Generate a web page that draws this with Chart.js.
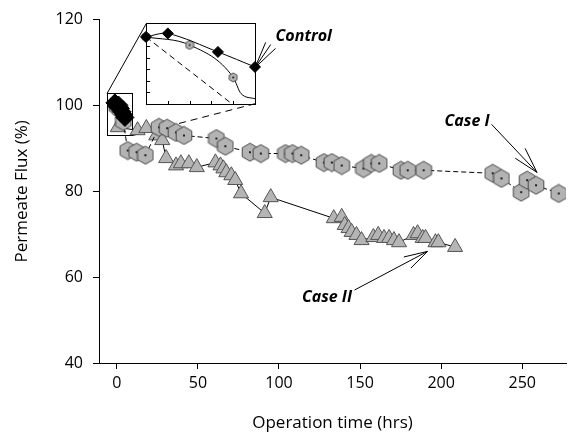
<!DOCTYPE html>
<html><head><meta charset="utf-8">
<script src="https://cdn.jsdelivr.net/npm/chart.js@4.4.1/dist/chart.umd.min.js"></script>
<style>
html,body{margin:0;padding:0;background:#fff;}
#wrap{position:relative;width:576px;height:433px;overflow:hidden;}
#main{position:absolute;left:0;top:0;}
#inset{position:absolute;}
</style></head><body>
<div id="wrap"><canvas id="main" width="576" height="433"></canvas><canvas id="inset" width="10" height="10"></canvas></div>
<script>
const FONT = '"Open Sans", "Noto Sans", sans-serif';
const xTicks = [0, 50, 100, 150, 200, 250];
const yTicks = [40, 60, 80, 100, 120];

// Case I (hexagons, dashed line)
const caseIX = [0, 2, 4, 6.7, 12.2, 17.6, 26, 31, 36.5, 41.4, 61.4, 66.9, 82.1, 88.8, 104, 108.3, 113.7, 127.7, 132.6, 138.7, 152.1, 156.9, 161.8, 175.2, 179.4, 189.2, 231.8, 237.2, 249.4, 253, 258.5, 272.5];
const caseIY = [99.8, 99.1, 96.3, 89.5, 89.1, 88.4, 94.9, 94.7, 93.7, 93.0, 92.3, 90.5, 89.1, 88.8, 88.8, 88.8, 88.4, 86.7, 86.7, 86.0, 85.3, 86.5, 86.5, 84.9, 84.9, 84.9, 84.2, 83.0, 79.8, 82.6, 81.4, 79.5];

// Case II (triangles, solid line)
const caseIIX = [0, 0.6, 12.8, 18.2, 24.3, 28, 30.4, 36.5, 39.5, 44.4, 49.3, 60.8, 63.9, 65.7, 67.5, 70.6, 73, 76.6, 91.2, 94.9, 133.8, 138.7, 140.5, 142.9, 144.8, 147.8, 150.9, 158.2, 161.2, 164.8, 167.9, 170.9, 174, 183, 185.5, 188.6, 190.4, 196.5, 198.3, 208.6];
const caseIIY = [99.8, 94.9, 94.2, 94.7, 93.0, 91.9, 87.7, 86.0, 86.5, 86.5, 85.6, 86.7, 86.0, 85.3, 84.4, 83.7, 82.6, 79.5, 74.9, 78.6, 73.7, 74.0, 72.1, 71.4, 70.5, 69.8, 68.6, 69.3, 69.8, 69.1, 69.1, 68.6, 68.1, 69.8, 70.2, 69.1, 69.1, 68.1, 68.1, 67.0];

// Control (diamonds)
const controlX = [0, 1, 3.3, 5];
const controlY = [99.8, 100.1, 98.5, 97.2];
// control readings visible in the main-chart cluster
const controlMainX = [-1.2, 0, 1, 2.2, 3.3, 4.2, 5];
const controlMainY = [100.6, 99.8, 100.1, 99.3, 98.5, 97.8, 97.2];

// Inset (zoom of first hours)
const insetXRange = [0, 5];
const insetYRange = [94, 101];
const insetXTicks = [1, 2, 3, 4];
const insetYTicks = [95, 96, 97, 98, 99, 100];
const insetCaseIX = [0, 2, 4];
const insetCaseIY = [99.8, 99.1, 96.3];
const insetCaseICurveX = [0, 2, 4, 4.36, 5];
const insetCaseICurveY = [99.8, 99.1, 96.3, 94.9, 94.45];
const insetCaseIIX = [0, 3.95];
const insetCaseIIY = [99.8, 94.0];

// Zoom box in main chart and inset placement (main data coords)
const zoomBoxX = [-6, 9.7];
const zoomBoxY = [93.0, 102.8];
const insetBoxX = [18.2, 85.2];
const insetBoxY = [100.4, 119.1];

// annotations (main data coords)
const labels = [
  {text: 'Control', x: 97.9, y: 116.0, align: 'left'},
  {text: 'Case I', x: 216, y: 96.3, align: 'center'},
  {text: 'Case II', x: 129.6, y: 55.3, align: 'center'}
];
const arrows = [
  {tip: [85.2, 108.8], tails: [[91.8, 114.7], [94.9, 114.2], [97.9, 113.3]]},
  {tip: [259.1, 84.4], tails: [[231.1, 95.6], [251.8, 90.0], [245.7, 87.7]]},
  {tip: [191.6, 66.0], tails: [[146.6, 57.0], [177.0, 64.7], [181.3, 62.1]]}
];

const pts = (xs, ys) => xs.map((v, i) => ({x: v, y: ys[i]}));

function hexImg(R, dot) {
  const w = Math.ceil(R * Math.sqrt(3)) + 2, h = Math.ceil(2 * R) + 2;
  const c = document.createElement('canvas'); c.width = w; c.height = h;
  const g = c.getContext('2d');
  g.beginPath();
  for (let i = 0; i < 6; i++) {
    const a = Math.PI / 2 + i * Math.PI / 3;
    const px = w / 2 + R * Math.cos(a), py = h / 2 + R * Math.sin(a);
    i ? g.lineTo(px, py) : g.moveTo(px, py);
  }
  g.closePath();
  g.fillStyle = '#b3b3b3'; g.fill();
  g.strokeStyle = '#4a4a4a'; g.lineWidth = 1; g.stroke();
  g.fillStyle = '#000';
  g.beginPath(); g.arc(w / 2, h / 2, dot, 0, Math.PI * 2); g.fill();
  return c;
}
const hexMain = hexImg(9, 1.1);
const hexSmall = hexImg(4.5, 0.9);

const annot = {
  id: 'annot',
  beforeDatasetsDraw(chart) {
    const {ctx, scales: {x, y}} = chart;
    ctx.save();
    ctx.strokeStyle = '#000'; ctx.lineWidth = 1;
    const bx0 = x.getPixelForValue(zoomBoxX[0]), bx1 = x.getPixelForValue(zoomBoxX[1]);
    const by0 = y.getPixelForValue(zoomBoxY[0]), by1 = y.getPixelForValue(zoomBoxY[1]);
    ctx.strokeRect(Math.round(bx0) + 0.5, Math.round(by1) + 0.5, Math.round(bx1 - bx0), Math.round(by0 - by1));
    const ix0 = x.getPixelForValue(insetBoxX[0]), ix1 = x.getPixelForValue(insetBoxX[1]);
    const iy0 = y.getPixelForValue(insetBoxY[0]), iy1 = y.getPixelForValue(insetBoxY[1]);
    ctx.beginPath(); ctx.moveTo(bx0, by1); ctx.lineTo(ix0, iy1); ctx.stroke();
    ctx.setLineDash([7, 5]);
    ctx.beginPath(); ctx.moveTo(bx1, by0); ctx.lineTo(ix1, iy0); ctx.stroke();
    ctx.restore();
  },
  afterDatasetsDraw(chart) {
    const {ctx, scales: {x, y}} = chart;
    ctx.save();
    ctx.strokeStyle = '#000'; ctx.lineWidth = 1;
    arrows.forEach(a => {
      const tx = x.getPixelForValue(a.tip[0]), ty = y.getPixelForValue(a.tip[1]);
      a.tails.forEach(t => {
        ctx.beginPath(); ctx.moveTo(x.getPixelForValue(t[0]), y.getPixelForValue(t[1])); ctx.lineTo(tx, ty); ctx.stroke();
      });
    });
    ctx.fillStyle = '#000';
    ctx.font = 'italic bold 16px ' + FONT;
    ctx.textBaseline = 'middle';
    labels.forEach(l => {
      ctx.textAlign = l.align;
      ctx.fillText(l.text, x.getPixelForValue(l.x), y.getPixelForValue(l.y));
    });
    ctx.restore();
  }
};

// Note: Chart.js draws dataset 0 last (on top)
const mainChart = new Chart(document.getElementById('main'), {
  type: 'scatter',
  data: {
    datasets: [
      {label: 'Control', data: pts(controlMainX, controlMainY), showLine: false,
       pointStyle: 'rectRot', pointRadius: 9, pointBackgroundColor: '#000', pointBorderColor: '#000'},
      {label: 'Case I', data: pts(caseIX, caseIY), showLine: true, borderColor: '#000', borderWidth: 1, borderDash: [5, 3],
       pointStyle: hexMain, pointRadius: 9, tension: 0},
      {label: 'Case II', data: pts(caseIIX, caseIIY), showLine: true, borderColor: '#000', borderWidth: 1,
       pointStyle: 'triangle', pointRadius: 8.7, pointBackgroundColor: '#b5b5b5', pointBorderColor: '#555', pointBorderWidth: 1, tension: 0}
    ]
  },
  options: {
    responsive: false, animation: false,
    layout: {padding: {left: 0, top: 19, right: 3, bottom: 0}},
    plugins: {legend: {display: false}, tooltip: {enabled: false}},
    scales: {
      x: {
        type: 'linear', min: -11, max: 277,
        afterBuildTicks: s => { s.ticks = xTicks.map(v => ({value: v})); },
        afterFit: s => { s.height = 70; },
        grid: {drawOnChartArea: false, drawTicks: true, tickLength: 6, color: '#000'},
        border: {display: true, color: '#000', width: 1},
        ticks: {color: '#000', font: {family: FONT, size: 16}, padding: 5, maxRotation: 0},
        title: {display: true, text: 'Operation time (hrs)', color: '#000', font: {family: FONT, size: 17}, padding: {top: 0, bottom: 0}}
      },
      y: {
        type: 'linear', min: 40, max: 120,
        afterBuildTicks: s => { s.ticks = yTicks.map(v => ({value: v})); },
        afterFit: s => { s.width = 99; },
        grid: {drawOnChartArea: false, drawTicks: true, tickLength: 6, color: '#000'},
        border: {display: true, color: '#000', width: 1},
        ticks: {color: '#000', font: {family: FONT, size: 16}, padding: 10},
        title: {display: true, text: 'Permeate Flux (%)', color: '#000', font: {family: FONT, size: 17}, padding: {top: 12, bottom: 0}}
      }
    }
  },
  plugins: [annot]
});

// inset chart placed from main scales
const PAD = 10;
const sx = mainChart.scales.x, sy = mainChart.scales.y;
const ipx0 = Math.round(sx.getPixelForValue(insetBoxX[0])), ipx1 = Math.round(sx.getPixelForValue(insetBoxX[1]));
const ipy1 = Math.round(sy.getPixelForValue(insetBoxY[1])), ipy0 = Math.round(sy.getPixelForValue(insetBoxY[0]));
const insetCanvas = document.getElementById('inset');
insetCanvas.width = ipx1 - ipx0 + 2 * PAD;
insetCanvas.height = ipy0 - ipy1 + 2 * PAD;
insetCanvas.style.left = (ipx0 - PAD) + 'px';
insetCanvas.style.top = (ipy1 - PAD) + 'px';

const insetFrame = {
  id: 'insetFrame',
  beforeDatasetsDraw(chart) {
    const {ctx, chartArea: a, scales: {x, y}} = chart;
    ctx.save();
    ctx.strokeStyle = '#000'; ctx.lineWidth = 1;
    ctx.strokeRect(Math.round(a.left) + 0.5, Math.round(a.top) + 0.5, Math.round(a.right - a.left), Math.round(a.bottom - a.top));
    ctx.beginPath();
    insetXTicks.forEach(v => { const px = Math.round(x.getPixelForValue(v)) + 0.5; ctx.moveTo(px, Math.round(a.bottom) + 0.5); ctx.lineTo(px, Math.round(a.bottom) - 3); });
    insetYTicks.forEach(v => { const py = Math.round(y.getPixelForValue(v)) + 0.5; ctx.moveTo(Math.round(a.left) + 0.5, py); ctx.lineTo(Math.round(a.left) + 4, py); });
    ctx.stroke();
    ctx.restore();
  }
};

new Chart(insetCanvas, {
  type: 'scatter',
  data: {
    datasets: [
      {label: 'Control', data: pts(controlX, controlY), showLine: true, borderColor: '#000', borderWidth: 1, tension: 0.3,
       pointStyle: 'rectRot', pointRadius: 5.5, pointBackgroundColor: '#000', pointBorderColor: '#000'},
      {label: 'Case I', data: pts(insetCaseIX, insetCaseIY), showLine: false, pointStyle: hexSmall, pointRadius: 4.5},
      {label: 'Case I curve', data: pts(insetCaseICurveX, insetCaseICurveY), showLine: true, borderColor: '#000', borderWidth: 1, pointRadius: 0, cubicInterpolationMode: 'monotone'},
      {label: 'Case II', data: pts(insetCaseIIX, insetCaseIIY), showLine: true, borderColor: '#000', borderWidth: 1, borderDash: [6, 4], pointRadius: 0}
    ]
  },
  options: {
    responsive: false, animation: false,
    layout: {padding: PAD},
    plugins: {legend: {display: false}, tooltip: {enabled: false}},
    scales: {
      x: {type: 'linear', min: insetXRange[0], max: insetXRange[1], display: false},
      y: {type: 'linear', min: insetYRange[0], max: insetYRange[1], display: false}
    },
    clip: false
  },
  plugins: [insetFrame]
});
</script>
</body></html>
